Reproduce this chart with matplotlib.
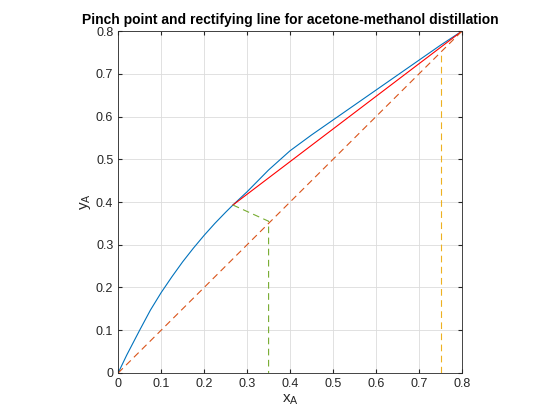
import matplotlib.pyplot as plt

plt.rcParams['font.family'] = ['Liberation Sans', 'DejaVu Sans']

# equilibrium curve
x_eq = [0.0, 0.02, 0.05, 0.075, 0.1, 0.125, 0.15, 0.175, 0.2, 0.225, 0.25, 0.267, 0.3, 0.35, 0.4, 0.45, 0.5, 0.55, 0.6, 0.65, 0.7, 0.75, 0.8]
y_eq = [0.0, 0.042, 0.1, 0.147, 0.188, 0.225, 0.26, 0.292, 0.322, 0.35, 0.376, 0.393, 0.424, 0.475, 0.52, 0.557, 0.592, 0.627, 0.662, 0.697, 0.732, 0.767, 0.8]

x_rect = [0.267, 0.8]
y_rect = [0.393, 0.8]
x_diag = [0.0, 0.8]
y_diag = [0.0, 0.8]
x_q = [0.267, 0.35, 0.35]
y_q = [0.393, 0.355, 0.0]
x_d = [0.75, 0.75]
y_d = [0.0, 0.75]

fig = plt.figure(figsize=(5.6, 4.2), dpi=100)
ax = fig.add_axes([0.211, 0.112, 0.614, 0.814])
ax.plot(x_eq, y_eq, color='#0072BD', lw=0.8)
ax.plot(x_rect, y_rect, color='red', lw=0.8)
ax.plot(x_diag, y_diag, '--', color='#D95319', lw=0.8, dashes=(6, 4))
ax.plot(x_q, y_q, '--', color='#77AC30', lw=0.8, dashes=(6, 4))
ax.plot(x_d, y_d, '--', color='#EDB120', lw=0.8, dashes=(6, 4))

ax.set_xlim(0, 0.8)
ax.set_ylim(0, 0.8)
ticks = [0, 0.1, 0.2, 0.3, 0.4, 0.5, 0.6, 0.7, 0.8]
labels = ['0', '0.1', '0.2', '0.3', '0.4', '0.5', '0.6', '0.7', '0.8']
ax.set_xticks(ticks)
ax.set_yticks(ticks)
ax.set_xticklabels(labels)
ax.set_yticklabels(labels)
ax.grid(True, color='#dcdcdc', lw=0.6)
ax.set_axisbelow(True)
ax.tick_params(direction='in', labelsize=9, colors='#262626', length=3, top=True, right=True)
for s in ax.spines.values():
    s.set_color('#262626')
    s.set_linewidth(0.6)
ax.set_xlabel('x$_\\mathregular{A}$', fontsize=11, color='#262626', labelpad=2)
ax.set_ylabel('y$_\\mathregular{A}$', fontsize=11, color='#262626', labelpad=2)
ax.set_title('Pinch point and rectifying line for acetone-methanol distillation',
             fontsize=10, fontweight='bold', pad=5)
fig.savefig('out.png', dpi=100)
